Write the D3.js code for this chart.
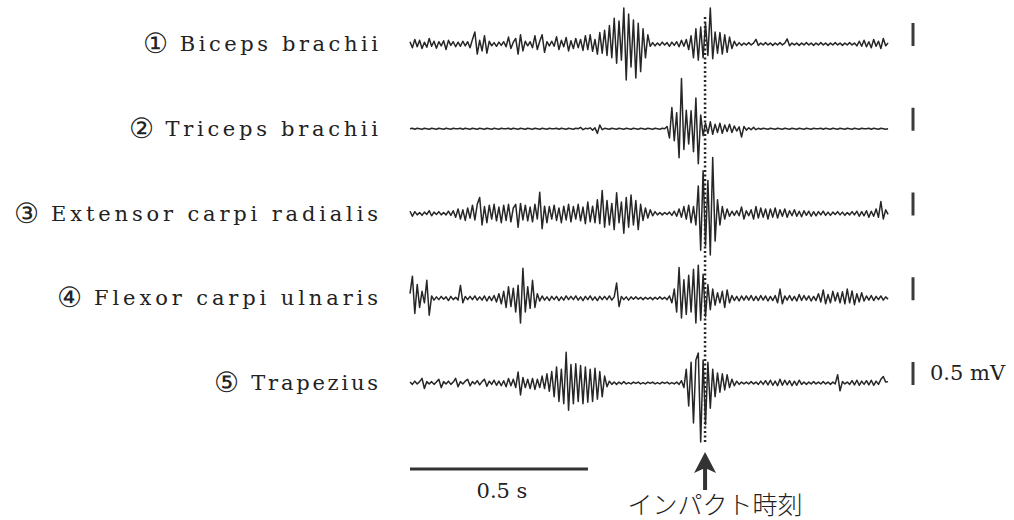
<!DOCTYPE html>
<html>
<head>
<meta charset="utf-8">
<script src="https://cdn.jsdelivr.net/npm/d3@7"></script>
<style>
  html, body { margin: 0; padding: 0; background: #ffffff; }
  svg { display: block; }
</style>
</head>
<body>
<svg id="chart" width="1014" height="520"></svg>
<script>
// ---------------- data ----------------
const muscles = [
  "① Biceps brachii",
  "② Triceps brachii",
  "③ Extensor carpi radialis",
  "④ Flexor carpi ulnaris",
  "⑤ Trapezius"
];
const sampleInterval = 0.00675;   // s between samples
const recordLength = 1.343;       // s
const impactTime = 0.829;         // s
const timeBarLength = 0.5;        // s
const timeBarLabel = "0.5 s";
const ampBarLength = 0.5;         // mV
const ampBarLabel = "0.5 mV";
const impactLabel = "インパクト時刻";

// EMG amplitude (mV), one value per sample
const biceps = [
  0.05,-0.08,0.1,-0.06,0.08,-0.1,0.04,-0.07,0.12,-0.05,
  0.06,-0.09,0.05,-0.04,0.07,-0.12,0.08,-0.03,0.05,-0.06,
  0.04,-0.05,0.06,-0.04,0.05,-0.08,0.1,0.26,-0.22,0.08,
  -0.15,0.18,-0.2,0.06,-0.04,0.03,-0.05,0.04,-0.03,0.05,
  -0.06,0.15,-0.1,0.04,0.12,-0.22,0.2,-0.15,0.06,-0.04,
  0.05,-0.08,0.18,-0.12,0.06,0.2,-0.18,0.05,-0.04,0.06,
  -0.05,0.16,-0.12,0.08,-0.06,0.14,-0.15,0.07,-0.1,0.12,
  -0.08,0.1,-0.14,0.18,-0.12,0.2,-0.16,0.1,-0.22,0.25,
  -0.2,0.3,-0.25,0.4,-0.3,0.56,-0.42,0.5,-0.35,0.78,
  -0.78,0.65,-0.5,0.52,-0.74,0.45,-0.6,0.33,-0.3,0.2,
  -0.05,0.03,-0.04,0.02,-0.03,0.04,-0.02,0.03,-0.05,0.04,
  -0.03,0.05,-0.06,0.08,-0.05,0.1,-0.12,0.18,-0.3,0.33,
  -0.35,0.37,-0.3,0.45,-0.25,0.78,-0.32,0.26,-0.2,0.25,
  -0.22,0.2,-0.18,0.15,-0.1,0.06,-0.04,0.03,-0.03,0.02,
  -0.02,0.03,-0.02,0.02,0.1,-0.03,0.02,-0.02,0.03,-0.02,
  0.02,-0.03,0.02,-0.02,0.03,-0.02,0.02,0.11,-0.04,0.02,
  -0.02,0.02,-0.03,0.02,-0.02,0.03,-0.02,0.02,-0.03,0.02,
  -0.02,0.03,-0.02,0.02,-0.03,0.02,-0.02,0.03,-0.02,0.02,
  -0.03,0.02,-0.02,0.03,-0.02,0.02,-0.04,0.06,-0.05,0.08,
  -0.06,0.05,-0.08,0.1,-0.05,0.06,-0.1,0.12,-0.04,0.02
];
const triceps = [
  0,0.01,-0.01,0.01,0,-0.01,0.01,0,-0.01,0.01,
  0,-0.01,0.01,0,-0.01,0.01,0,-0.01,0.01,0,
  0,0.01,-0.01,0.01,0,-0.01,0.01,0,-0.01,0.01,
  0,-0.01,0.01,0,-0.01,0.01,0,-0.01,0.01,0,
  0,0.01,-0.01,0.01,0,-0.01,0.01,0,-0.01,0.01,
  0,-0.01,0.01,0,-0.01,0.01,0,-0.01,0.01,0,
  0,0.01,-0.01,0.01,0,-0.01,0.01,0,-0.01,0.01,
  0,0.03,-0.02,0.01,0,0.02,-0.03,0.02,-0.1,0.08,
  -0.02,0.01,0,-0.01,0.01,0,-0.01,0.01,0,-0.01,
  0.01,0,-0.01,0.01,0,-0.01,0.01,0,-0.01,0.01,
  0,-0.01,0.01,0,-0.01,0.01,0,0.05,-0.2,0.46,
  -0.26,0.35,-0.63,1.09,-0.45,0.4,-0.33,0.39,-0.5,0.67,
  -0.76,0.3,-0.15,0.12,-0.1,0.15,-0.12,0.1,-0.08,0.12,
  -0.1,0.08,-0.06,0.1,-0.08,0.06,-0.05,0.04,-0.18,0.05,
  -0.03,0.02,-0.02,0.03,-0.02,0.01,-0.01,0.01,0,-0.01,
  0.01,0,-0.01,0.01,0,-0.01,0.01,0,-0.01,0.01,
  0,-0.01,0.01,0,-0.01,0.01,0,-0.01,0.01,0,
  0,0.01,-0.01,0.01,0,-0.01,0.01,0,-0.01,0.01,
  0,-0.01,0.01,0,-0.01,0.01,0,-0.01,0.01,0,
  0,0.01,-0.01,0.01,0,-0.01,0.01,0,-0.01,0
];
const extensor = [
  0.05,-0.06,0.04,-0.03,0.02,-0.04,0.03,-0.02,0.06,-0.05,
  0.03,-0.02,0.04,-0.03,0.02,-0.03,0.05,-0.04,0.06,-0.08,
  0.1,-0.12,0.08,-0.15,0.12,-0.1,0.18,-0.14,0.2,0.35,
  -0.25,0.15,-0.2,0.18,-0.12,0.2,-0.16,0.14,-0.2,0.18,
  -0.15,0.2,-0.18,0.12,0.2,-0.3,0.22,-0.14,0.18,-0.16,
  0.14,-0.18,0.2,-0.12,0.46,-0.33,0.16,-0.2,0.15,-0.12,
  0.18,-0.15,0.12,-0.2,0.16,-0.14,0.2,-0.18,0.15,-0.12,
  0.2,-0.16,0.14,-0.22,0.25,-0.18,0.16,-0.2,0.3,-0.22,
  0.5,-0.3,0.28,-0.25,0.22,-0.35,0.45,-0.2,0.25,-0.43,
  0.35,-0.3,0.4,-0.25,0.28,-0.35,0.2,-0.15,0.12,-0.1,
  0.08,-0.05,0.04,-0.03,0.02,-0.03,0.02,-0.02,0.03,-0.04,
  0.05,-0.06,0.1,-0.08,0.15,-0.12,0.18,-0.2,0.15,-0.25,
  0.6,-0.8,0.93,-0.7,0.72,-0.9,1.22,-0.6,0.3,-0.25,
  0.15,-0.12,0.1,-0.06,0.05,-0.04,0.06,-0.05,0.14,-0.12,
  0.06,-0.05,0.08,-0.12,0.15,-0.1,0.12,-0.08,0.1,-0.12,
  0.1,-0.08,0.12,-0.1,0.08,-0.06,0.1,-0.08,0.06,-0.05,
  0.08,-0.06,0.05,-0.07,0.06,-0.04,0.05,-0.06,0.04,-0.05,
  0.04,-0.03,0.05,-0.04,0.03,-0.04,0.03,-0.02,0.04,-0.03,
  0.03,-0.04,0.02,-0.03,0.04,-0.03,0.05,-0.06,0.04,-0.05,
  0.06,-0.08,0.05,-0.06,0.1,-0.08,0.26,-0.12,0.08,-0.02
];
const flexor = [
  0.1,0.48,-0.33,0.3,-0.2,0.15,-0.1,0.39,-0.37,0.05,
  -0.04,0.03,-0.03,0.04,-0.02,0.03,-0.05,0.04,-0.03,0.02,
  -0.04,0.28,-0.1,0.04,-0.03,0.04,-0.03,0.05,-0.04,0.03,
  -0.04,0.05,-0.06,0.04,-0.05,0.06,-0.08,0.1,-0.12,0.15,
  -0.2,0.25,-0.18,0.22,-0.3,0.28,-0.54,0.65,-0.3,0.25,
  -0.22,0.39,-0.2,0.1,-0.06,0.05,-0.04,0.03,-0.05,0.04,
  -0.03,0.04,-0.05,0.03,-0.04,0.05,-0.03,0.04,-0.03,0.05,
  -0.04,0.03,-0.05,0.04,-0.03,0.05,-0.04,0.03,-0.05,0.04,
  -0.03,0.04,-0.03,0.05,-0.04,0.03,0.33,-0.18,0.04,-0.03,
  0.03,-0.04,0.03,-0.02,0.03,-0.02,0.02,-0.03,0.02,-0.02,
  0.02,-0.03,0.02,-0.02,0.03,-0.02,0.02,-0.03,0.05,-0.1,
  0.2,-0.3,0.67,-0.43,0.4,-0.35,0.5,-0.3,0.63,-0.54,
  0.72,-0.48,0.52,-0.4,0.3,-0.25,0.2,-0.15,0.12,-0.1,
  0.15,-0.2,0.18,-0.1,0.06,-0.05,0.04,-0.06,0.05,-0.04,
  0.05,-0.04,0.06,-0.05,0.04,-0.05,0.06,-0.04,0.05,-0.06,
  0.04,-0.05,0.06,-0.1,0.2,-0.12,0.05,-0.04,0.06,-0.05,
  0.04,-0.06,0.08,-0.05,0.06,-0.04,0.05,-0.06,0.04,-0.05,
  0.1,-0.08,0.18,-0.12,0.08,-0.1,0.15,-0.06,0.12,-0.1,
  0.14,-0.12,0.2,-0.1,0.16,-0.14,0.1,-0.08,0.12,-0.06,
  0.05,-0.04,0.06,-0.05,0.04,-0.03,0.05,-0.04,0.03,-0.02
];
const trapezius = [
  0.02,-0.03,0.04,-0.02,0.03,0.1,-0.12,0.03,-0.02,0.03,
  -0.03,0.02,0.08,-0.1,0.03,-0.02,0.04,-0.03,0.02,0.1,
  -0.08,0.03,-0.02,0.04,0.08,-0.06,0.03,-0.02,0.05,-0.04,
  0.03,0.08,-0.07,0.04,-0.03,0.06,-0.05,0.04,-0.06,0.05,
  -0.08,0.1,-0.06,0.08,-0.1,0.24,-0.26,0.12,-0.1,0.08,
  -0.12,0.1,-0.14,0.08,-0.1,0.15,-0.12,0.2,-0.18,0.25,
  -0.3,0.35,-0.4,0.3,-0.45,0.67,-0.59,0.4,-0.45,0.42,
  -0.4,0.38,-0.45,0.35,-0.42,0.3,-0.4,0.32,-0.35,0.25,
  -0.3,0.15,-0.08,0.04,-0.03,0.02,-0.03,0.02,-0.02,0.03,
  -0.02,0.01,-0.02,0.02,-0.01,0.02,-0.02,0.01,-0.02,0.02,
  -0.01,0.02,-0.02,0.01,-0.02,0.02,-0.01,0.02,-0.02,0.01,
  -0.02,0.02,-0.03,0.05,-0.1,0.3,-0.5,0.45,-0.87,0.5,
  0.65,-1.28,0.5,-0.9,0.45,-0.55,0.3,-0.3,0.22,-0.2,
  0.2,-0.15,0.18,-0.1,0.08,-0.06,0.04,-0.03,0.02,-0.02,
  0.02,-0.02,0.03,-0.02,0.02,-0.03,0.04,-0.03,0.05,-0.04,
  0.06,-0.05,0.04,-0.06,0.08,-0.05,0.06,-0.04,0.05,-0.06,
  0.04,-0.05,0.06,-0.03,0.02,-0.03,0.02,-0.02,0.03,-0.02,
  0.02,-0.02,0.03,-0.02,0.02,-0.03,0.02,-0.02,0.18,-0.17,
  0.03,-0.02,0.02,-0.03,0.05,-0.04,0.06,-0.05,0.04,-0.03,
  0.05,-0.04,0.06,-0.05,0.04,-0.03,0.08,0.14,0.02,0.03
];
const traces = [biceps, triceps, extensor, flexor, trapezius];

// ---------------- drawing ----------------
const svg = d3.select("#chart");
const ink = "#262626";

const x = d3.scaleLinear().domain([0, recordLength]).range([410, 888]);
const row = d3.scalePoint().domain(muscles).range([44, 383]);
const amp = d3.scaleLinear().domain([0, 1]).range([0, -46]); // mV -> px offset (up)

const line = d3.line()
  .x((d, i) => x(i * sampleInterval))
  .y(d => d.y);

const serif = "'DejaVu Serif', 'Liberation Serif', serif";

muscles.forEach((m, k) => {
  const base = row(m);
  const pts = traces[k].map(v => ({ y: base + amp(v) }));

  svg.append("path")
    .datum(pts)
    .attr("d", line)
    .attr("fill", "none")
    .attr("stroke", ink)
    .attr("stroke-width", 1.5)
    .attr("stroke-linejoin", "round");

  // label: circled number + name, spread to mimic a fixed-pitch Mincho face
  const g = svg.append("g");
  const parts = m.split(" ");
  const num = parts[0];
  const name = parts.slice(1).join(" ");
  const nameWidth = 14.3 * name.length;
  g.append("text")
    .attr("x", 380 - nameWidth)
    .attr("y", base + 7)
    .attr("textLength", nameWidth - 2)
    .attr("lengthAdjust", "spacing")
    .attr("font-family", serif)
    .attr("font-size", 21)
    .attr("fill", "#222")
    .text(name);
  g.append("text")
    .attr("x", 380 - nameWidth - 12)
    .attr("y", base + 9)
    .attr("text-anchor", "end")
    .attr("font-family", serif)
    .attr("font-size", 28)
    .attr("fill", "#222")
    .text(num);

  // amplitude scale bar
  svg.append("line")
    .attr("x1", 913).attr("x2", 913)
    .attr("y1", base + 2 + amp(ampBarLength))
    .attr("y2", base + 2)
    .attr("stroke", "#3a3a3a")
    .attr("stroke-width", 3);
});

// amplitude bar label (on last row)
svg.append("text")
  .attr("x", 930)
  .attr("y", row(muscles[4]) - 3)
  .attr("font-family", serif)
  .attr("font-size", 21)
  .attr("fill", "#222")
  .text(ampBarLabel);

// impact dotted line
svg.append("line")
  .attr("x1", x(impactTime)).attr("x2", x(impactTime))
  .attr("y1", 17).attr("y2", 443)
  .attr("stroke", ink)
  .attr("stroke-width", 2.5)
  .attr("stroke-dasharray", "2,2.5");

// time scale bar
svg.append("line")
  .attr("x1", x(0)).attr("x2", x(timeBarLength))
  .attr("y1", 469).attr("y2", 469)
  .attr("stroke", "#333")
  .attr("stroke-width", 3);
svg.append("text")
  .attr("x", (x(0) + x(timeBarLength)) / 2 + 3)
  .attr("y", 498)
  .attr("text-anchor", "middle")
  .attr("font-family", serif)
  .attr("font-size", 21)
  .attr("fill", "#222")
  .text(timeBarLabel);

// impact arrow
const ax = x(impactTime);
svg.append("line")
  .attr("x1", ax).attr("x2", ax)
  .attr("y1", 490).attr("y2", 466)
  .attr("stroke", "#333")
  .attr("stroke-width", 4);
svg.append("path")
  .attr("d", d3.line()([[ax, 452], [ax - 11, 473], [ax, 468], [ax + 11, 473]]) + "Z")
  .attr("fill", "#333");

svg.append("text")
  .attr("x", ax + 10)
  .attr("y", 514)
  .attr("text-anchor", "middle")
  .attr("font-family", "'Noto Sans CJK JP', sans-serif")
  .attr("font-size", 25)
  .attr("font-weight", 300)
  .attr("fill", "#222")
  .text(impactLabel);
</script>
</body>
</html>
